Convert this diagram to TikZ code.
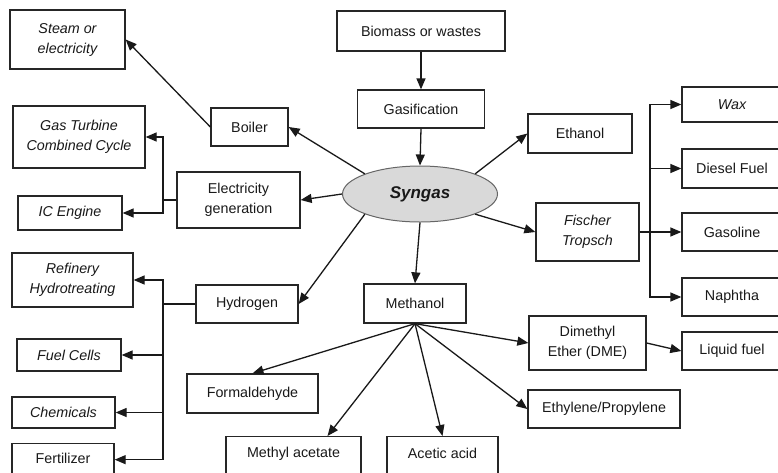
\documentclass[tikz,border=0pt]{standalone}
\usepackage{fontspec}
\setmainfont{Liberation Sans}
\usetikzlibrary{arrows.meta,shapes.geometric}
\begin{document}
\begin{tikzpicture}[x=1pt,y=-1pt,
 box/.style={draw=black!85, line width=1.3pt, rectangle, inner sep=0pt, align=center, font=\fontsize{14.3}{20}\selectfont, text=black!90},
 itbox/.style={box, font=\fontsize{14.3}{20}\selectfont\itshape},
 arr/.style={draw=black!90, line width=1.3pt, -{Triangle[length=11pt,width=9pt]}},
 ln/.style={draw=black!90, line width=1.3pt},
]
\useasboundingbox (0,0) rectangle (778,472);
\fill[white] (0,0) rectangle (778,472);
\clip (0,0) rectangle (778,472);

% left column
\node[itbox, minimum width=115pt, minimum height=59pt] (steam) at (67.5,39.5) {Steam or\\electricity};
\node[itbox, minimum width=132pt, minimum height=62pt] (gtcc) at (79,137) {Gas Turbine\\Combined Cycle};
\node[itbox, minimum width=104pt, minimum height=34pt] (ice) at (70,213) {IC Engine};
\node[itbox, minimum width=121pt, minimum height=54pt] (refinery) at (72.5,280) {Refinery\\Hydrotreating};
\node[itbox, minimum width=104pt, minimum height=32pt] (fuelcells) at (69,355) {Fuel Cells};
\node[itbox, minimum width=103pt, minimum height=31pt] (chemicals) at (63.5,412.5) {Chemicals};
\node[box, minimum width=102pt, text height=20pt, text depth=30pt, anchor=north] (fertilizer) at (63,443) {Fertilizer};

% second column
\node[box, minimum width=77pt, minimum height=38pt] (boiler) at (249.5,127) {Boiler};
\node[box, minimum width=123pt, minimum height=56pt] (elec) at (238.5,200) {Electricity\\generation};
\node[box, minimum width=102pt, minimum height=38pt] (hydrogen) at (247,304) {Hydrogen};

% centre
\node[box, minimum width=168pt, minimum height=40pt] (biomass) at (421,31) {Biomass or wastes};
\node[box, minimum width=127pt, minimum height=38pt] (gasif) at (421,109) {Gasification};
\node[ellipse, draw=black!60, fill=black!15, line width=1pt, minimum width=155pt, minimum height=56pt, inner sep=0pt, font=\fontsize{17}{20}\selectfont\bfseries\itshape, text=black!90] (syngas) at (420,194) {Syngas};
\node[box, minimum width=102pt, minimum height=39pt] (methanol) at (415,303.5) {Methanol};

% methanol products
\node[box, minimum width=131pt, minimum height=39pt] (formaldehyde) at (252.5,393.5) {Formaldehyde};
\node[box, minimum width=135pt, text height=21pt, text depth=30pt, anchor=north] (macet) at (293.5,436) {Methyl acetate};
\node[box, minimum width=111pt, text height=22pt, text depth=30pt, anchor=north] (acetic) at (442.5,436) {Acetic acid};
\node[box, minimum width=117pt, minimum height=54pt] (dme) at (587.5,343) {Dimethyl\\Ether (DME)};
\node[box, minimum width=152pt, minimum height=38pt] (ethylene) at (604,409) {Ethylene/Propylene};

% right side
\node[box, minimum width=104pt, minimum height=39pt] (ethanol) at (580,133.5) {Ethanol};
\node[itbox, minimum width=103pt, minimum height=58pt] (fischer) at (587.5,232) {Fischer\\Tropsch};
\node[itbox, minimum width=100pt, minimum height=35pt] (wax) at (732,104.5) {Wax};
\node[box, minimum width=100pt, minimum height=39pt] (diesel) at (732,168.5) {Diesel Fuel};
\node[box, minimum width=100pt, minimum height=38pt] (gasoline) at (732,232) {Gasoline};
\node[box, minimum width=100pt, minimum height=38pt] (naphtha) at (732,297) {Naphtha};
\node[box, minimum width=100pt, minimum height=38pt] (liquid) at (732,351) {Liquid fuel};

% connectors
\draw[arr] (biomass.south) -- (gasif.north);
\draw[arr] (gasif.south) -- (syngas.north);
\draw[arr] (syngas.north west) -- (boiler.east);
\draw[arr] (syngas.west) -- (elec.east);
\draw[arr] (syngas.south west) -- (hydrogen.east);
\draw[arr] (syngas.south) -- (methanol.north);
\draw[arr] (syngas.north east) -- (ethanol.west);
\draw[arr] (syngas.south east) -- (fischer.west);
\draw[arr] (boiler.west) -- (steam.east);

\coordinate (ej) at (163,200);
\draw[ln] (elec.west) -- (ej);
\draw[arr] (ej) |- (gtcc.east);
\draw[arr] (ej) |- (ice.east);

\coordinate (hj) at (163,304);
\draw[ln] (hydrogen.west) -- (hj);
\draw[arr] (hj) |- (refinery.east);
\draw[arr] (hj) |- (fuelcells.east);
\draw[arr] (hj) |- (chemicals.east);
\draw[arr] (hj) |- ([yshift=4pt]fertilizer.base east);

\coordinate (fj) at (650,232);
\draw[ln] (fischer.east) -- (fj);
\draw[arr] (fj) |- (wax.west);
\draw[arr] (fj) |- (diesel.west);
\draw[arr] (fj) -- (gasoline.west);
\draw[arr] (fj) |- (naphtha.west);

\draw[arr] (methanol.south) -- (formaldehyde.north);
\draw[arr] (methanol.south) -- ([xshift=34pt]macet.north);
\draw[arr] (methanol.south) -- (acetic.north);
\draw[arr] (methanol.south) -- (dme.west);
\draw[arr] (methanol.south) -- (ethylene.west);
\draw[arr] (dme.east) -- (liquid.west);
\end{tikzpicture}
\end{document}
